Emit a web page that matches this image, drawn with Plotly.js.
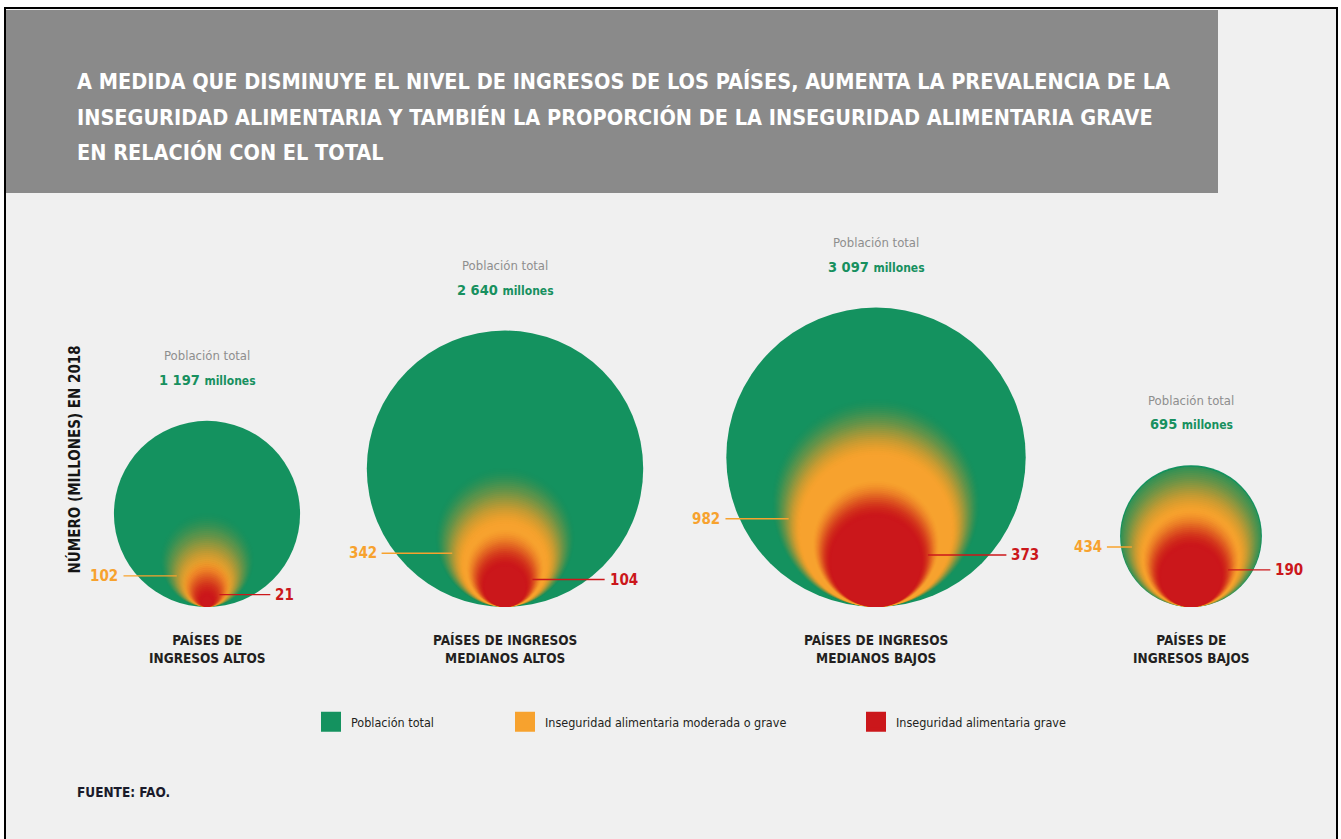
<!DOCTYPE html>
<html><head><meta charset="utf-8">
<script src="https://cdn.plot.ly/plotly-3.0.1.min.js"></script>
<style>html,body{margin:0;padding:0;background:#fff;} #chart{width:1341px;height:839px;}</style>
</head><body><div id="chart"></div>
<script>
// ---------- DATA (millones de personas, 2018) ----------
const categories = ['PAÍSES DE<br>INGRESOS ALTOS', 'PAÍSES DE INGRESOS<br>MEDIANOS ALTOS', 'PAÍSES DE INGRESOS<br>MEDIANOS BAJOS', 'PAÍSES DE<br>INGRESOS BAJOS'];
const poblacionTotal = [1197, 2640, 3097, 695];
const inseguridadModeradaGrave = [102, 342, 982, 434];
const inseguridadGrave = [21, 104, 373, 190];
const totalLabels = ['1 197', '2 640', '3 097', '695'];
const seriesNames = ['Población total', 'Inseguridad alimentaria moderada o grave', 'Inseguridad alimentaria grave'];
const titleLines = [
  'A MEDIDA QUE DISMINUYE EL NIVEL DE INGRESOS DE LOS PAÍSES, AUMENTA LA PREVALENCIA DE LA',
  'INSEGURIDAD ALIMENTARIA Y TAMBIÉN LA PROPORCIÓN DE LA INSEGURIDAD ALIMENTARIA GRAVE',
  'EN RELACIÓN CON EL TOTAL'
];

// ---------- LAYOUT CONSTANTS ----------
const W = 1341, H = 839;
const BASE_PX = 607;                    // pixel row where all circles sit
const CENTER_X = [207, 505, 876, 1191]; // slot centres along x (pixel units)
const K = 2.69;                         // px per sqrt(million) -> area-proportional circles
const FONT = "'DejaVu Sans Condensed','Liberation Sans Narrow','Arial Narrow',sans-serif";
const GREEN = '#14925f', ORANGE = '#f7a22e', RED = '#cb171b';
const LEG_X = [331, 525, 876];          // legend swatch centres
const TITLE_Y = [81, 117, 153];

const rad = v => K * Math.sqrt(v);
const px = x => x / W, py = y => 1 - y / H;
const outerR = poblacionTotal.map(v => rad(v) - 0.8);   // inner circles never spill outside the total

function circleTrace(values, off, color, opacity, cap) {
  const r = values.map((v, i) => {
    let d = Math.max(rad(v) + off, 0.6);
    if (cap) d = Math.min(d, cap[i]);
    return d;
  });
  return {
    type: 'scatter', mode: 'markers', x: CENTER_X, y: r,
    marker: { size: r.map(d => 2 * d), sizemode: 'diameter', color: color, opacity: opacity, line: { width: 0 } },
    hoverinfo: 'skip', showlegend: false, cliponaxis: false
  };
}
// soft edge: stack of bottom-aligned translucent circles
function softCircles(values, color, inner, outer, N) {
  const offs = [];
  for (let s = 0; s <= N; s++) offs.push(-inner + (inner + outer) * s / N);
  const T = [];
  for (let s = 1; s <= N; s++) {
    const m = (offs[s - 1] + offs[s]) / 2;
    let t = (m + inner) / (inner + outer);
    t = t * t * (3 - 2 * t);
    T[s] = 1 - t;
  }
  T[N + 1] = 0;
  const out = [];
  for (let s = N; s >= 1; s--) {
    const a = 1 - (1 - T[s]) / (1 - T[s + 1]);
    out.push(circleTrace(values, offs[s], color, a, outerR));
  }
  out.push(circleTrace(values, offs[0], color, 1, outerR));
  return out;
}

const traces = [];
traces.push(circleTrace(poblacionTotal, 0, GREEN, 1));
softCircles(inseguridadModeradaGrave, ORANGE, 9, 21, 30).forEach(t => traces.push(t));
softCircles(inseguridadGrave, RED, 7, 12, 20).forEach(t => traces.push(t));

// legend entries (square swatches)
const legColors = [GREEN, ORANGE, RED];
seriesNames.forEach((n, i) => {
  traces.push({
    type: 'scatter', mode: 'markers', x: [null], y: [null], name: n,
    legend: i === 0 ? 'legend' : 'legend' + (i + 1), showlegend: true,
    marker: { symbol: 'square', size: 16, color: legColors[i], line: { width: 4, color: legColors[i] } },
    hoverinfo: 'skip'
  });
});

function legendAt(i) {
  return {
    x: px(LEG_X[i] - 20), xanchor: 'left', y: py(722), yanchor: 'middle',
    orientation: 'h', bgcolor: 'rgba(0,0,0,0)', borderwidth: 0,
    font: { family: FONT, size: 12.5, color: '#231f20' }, itemclick: false, itemdoubleclick: false
  };
}

// ---------- ANNOTATIONS ----------
const ann = [];
titleLines.forEach((t, i) => ann.push({
  xref: 'paper', yref: 'paper', x: px(75), y: py(TITLE_Y[i]), xanchor: 'left', yanchor: 'middle', align: 'left', showarrow: false,
  text: '<b>' + t + '</b>', font: { family: FONT, size: 21.5, color: '#ffffff' }
}));
ann.push({
  xref: 'paper', yref: 'paper', x: px(62), y: py(460), textangle: -90, showarrow: false,
  text: '<b>NÚMERO (MILLONES) EN 2018</b>', font: { family: FONT, size: 15, color: '#151515' }
});
ann.push({
  xref: 'paper', yref: 'paper', x: px(75), y: py(792), xanchor: 'left', yanchor: 'middle', showarrow: false,
  text: '<b>FUENTE: FAO.</b>', font: { family: FONT, size: 13.5, color: '#1b1b2b' }
});

const halfChord = (R, h) => Math.sqrt(Math.max(R * R - (R - h) * (R - h), 0));

categories.forEach((cat, i) => {
  const cx = CENTER_X[i];
  const R = rad(poblacionTotal[i]);
  const ro = rad(inseguridadModeradaGrave[i]);
  const rr = rad(inseguridadGrave[i]);
  ann.push({ x: cx, y: 2 * R, yshift: 65, yanchor: 'middle', showarrow: false,
    text: 'Población total', font: { family: FONT, size: 13, color: '#8e8e8e' } });
  ann.push({ x: cx, y: 2 * R, yshift: 41, yanchor: 'middle', showarrow: false,
    text: '<b>' + totalLabels[i] + ' <span style="font-size:12px">millones</span></b>',
    font: { family: FONT, size: 14.5, color: '#17905f' } });
  ann.push({ x: cx, y: 0, yshift: -42, yanchor: 'middle', showarrow: false, align: 'center',
    text: '<b>' + cat + '</b>', font: { family: FONT, size: 13.5, color: '#231f20' } });
  // orange leader
  const ho = ro + 4;
  const tailO = cx - halfChord(R, ho) - 14, headO = cx - ro - 3;
  ann.push({ x: headO, y: ho, ax: tailO - headO, ay: 0, xanchor: 'right', yanchor: 'middle', borderpad: 4,
    showarrow: true, arrowhead: 0, arrowwidth: 1.4, arrowcolor: ORANGE,
    text: '<b>' + inseguridadModeradaGrave[i] + '</b>', font: { family: FONT, size: 15, color: ORANGE } });
  // red leader
  const hr = rr;
  const tailR = cx + halfChord(R, hr) + 17, headR = cx + rr;
  ann.push({ x: headR, y: hr, ax: tailR - headR, ay: 0, xanchor: 'left', yanchor: 'middle', borderpad: 4,
    showarrow: true, arrowhead: 0, arrowwidth: 1.4, arrowcolor: RED,
    text: '<b>' + inseguridadGrave[i] + '</b>', font: { family: FONT, size: 15, color: RED } });
});

// ---------- SHAPES (frame + header band) ----------
const shapes = [
  { type: 'rect', xref: 'paper', yref: 'paper', x0: px(5), x1: px(1337), y0: -0.05, y1: py(8),
    fillcolor: '#f0f0f0', line: { color: '#000', width: 2 }, layer: 'below' },
  { type: 'rect', xref: 'paper', yref: 'paper', x0: px(6), x1: px(1218), y0: py(193), y1: py(10),
    fillcolor: '#8a8a8a', line: { width: 0 }, layer: 'below' }
];

const layout = {
  width: W, height: H, autosize: false,
  margin: { l: 0, r: 0, t: 0, b: 0, pad: 0 },
  paper_bgcolor: '#ffffff', plot_bgcolor: 'rgba(0,0,0,0)',
  xaxis: { range: [0, W], visible: false, fixedrange: true },
  yaxis: { range: [BASE_PX - H, BASE_PX], visible: false, fixedrange: true },
  showlegend: true,
  legend: legendAt(0), legend2: legendAt(1), legend3: legendAt(2),
  annotations: ann, shapes: shapes,
  font: { family: FONT }
};

Plotly.newPlot('chart', traces, layout, { displayModeBar: false, staticPlot: true });
</script></body></html>
